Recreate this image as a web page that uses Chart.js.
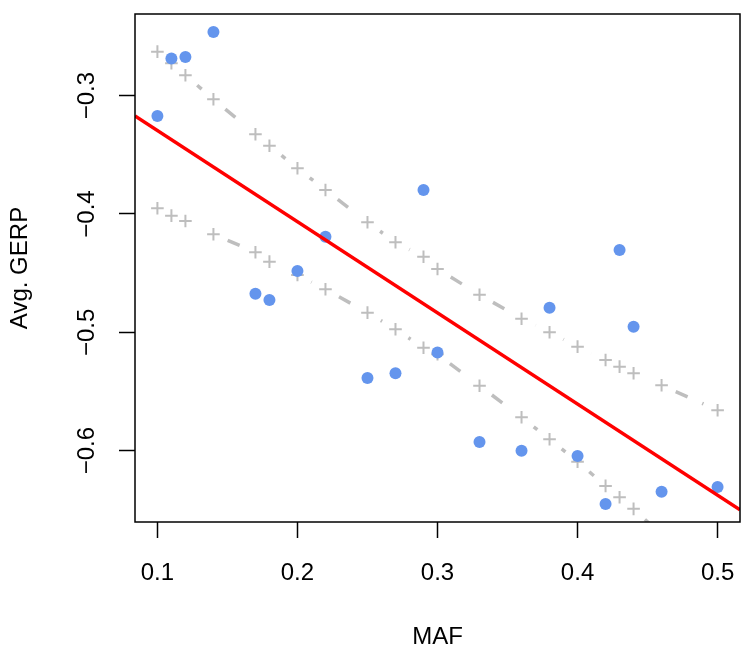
<!DOCTYPE html>
<html>
<head>
<meta charset="utf-8">
<script src="https://cdn.jsdelivr.net/npm/chart.js@4/dist/chart.umd.min.js"></script>
<style>
  html, body { margin: 0; padding: 0; background: #ffffff; }
  canvas { display: block; }
</style>
</head>
<body>
<canvas id="c" width="741" height="650"></canvas>
<script>
// ---- data ----
const maf = [0.10, 0.11, 0.12, 0.14, 0.17, 0.18, 0.20, 0.22, 0.25, 0.27, 0.29, 0.30, 0.33, 0.36, 0.38, 0.40, 0.42, 0.43, 0.44, 0.46, 0.50];
const avgGerp = [-0.3172, -0.2686, -0.2673, -0.2462, -0.4674, -0.4727, -0.4481, -0.4192, -0.5386, -0.5346, -0.3797, -0.5170, -0.5927, -0.6001, -0.4792, -0.6045, -0.6451, -0.4304, -0.4953, -0.6347, -0.6307];
const upperBand = [-0.2628, -0.2726, -0.2827, -0.3030, -0.3326, -0.3423, -0.3614, -0.3797, -0.4070, -0.4239, -0.4361, -0.4465, -0.4682, -0.4885, -0.4999, -0.5121, -0.5234, -0.5290, -0.5346, -0.5447, -0.5659];
const lowerBand = [-0.3952, -0.4014, -0.4059, -0.4171, -0.4323, -0.4403, -0.4515, -0.4636, -0.4834, -0.4974, -0.5130, -0.5186, -0.5451, -0.5718, -0.5904, -0.6093, -0.6298, -0.6394, -0.6492, -0.6712, -0.7090];
const fitX = [0.084, 0.516];
const fitY = [-0.3172, -0.6500];
const xTicks = [0.1, 0.2, 0.3, 0.4, 0.5];
const xTickLabels = ['0.1', '0.2', '0.3', '0.4', '0.5'];
const yTicks = [-0.6, -0.5, -0.4, -0.3];
const yTickLabels = ['\u22120.6', '\u22120.5', '\u22120.4', '\u22120.3'];
const xTitle = 'MAF';
const yTitle = 'Avg. GERP';

// ---- build chart ----
const pts = (xs, ys) => xs.map((x, i) => ({ x: x, y: ys[i] }));
const FONT = "'Liberation Sans', Arial, Helvetica, sans-serif";
const GRAY = '#BEBEBE';

// R type="b" look: each segment starts its own dot-dash pattern after a gap
// around the point symbol, and stops the same gap before the next symbol.
const GAP = 15.5;
const DASH = [13, 16, 3, 16];
function segmentDash(ctx) {
  const a = ctx.p0, b = ctx.p1;
  const L = Math.hypot(b.x - a.x, b.y - a.y);
  const avail = L - 2 * GAP;
  if (!(avail > 0)) return [0, L + 100 + ctx.p0DataIndex * 0.001];
  const out = [0, GAP];
  let rem = avail, k = 0;
  while (rem > 0.01) {
    const len = Math.min(DASH[k % 4], rem);
    out.push(len); rem -= len; k++;
  }
  if (out.length % 2 === 1) out.push(L + 100); else out.push(0, L + 100);
  return out;
}

const boxPlugin = {
  id: 'box',
  afterDraw(chart) {
    const a = chart.chartArea, ctx = chart.ctx;
    ctx.save();
    ctx.strokeStyle = '#000000';
    ctx.lineWidth = 1.5;
    ctx.strokeRect(a.left, a.top, a.right - a.left, a.bottom - a.top);
    ctx.restore();
  }
};

const bandStyle = {
  type: 'line', order: 2,
  borderColor: GRAY, borderWidth: 3.5, borderCapStyle: 'butt', fill: false, tension: 0,
  segment: { borderDash: segmentDash },
  pointStyle: 'cross', pointRadius: 6.3, pointBorderWidth: 2,
  pointBorderColor: GRAY, pointBackgroundColor: GRAY
};

new Chart(document.getElementById('c'), {
  type: 'scatter',
  data: {
    datasets: [
      { // regression line
        type: 'line', data: pts(fitX, fitY), order: 0,
        borderColor: '#FF0000', borderWidth: 3.5, pointRadius: 0, fill: false
      },
      { // observed points
        data: pts(maf, avgGerp), order: 1,
        pointStyle: 'circle', pointRadius: 6, pointBackgroundColor: '#6495ED',
        pointBorderWidth: 0, borderColor: '#6495ED', showLine: false
      },
      Object.assign({ data: pts(maf, upperBand) }, bandStyle),
      Object.assign({ data: pts(maf, lowerBand) }, bandStyle)
    ]
  },
  options: {
    responsive: false,
    animation: false,
    events: [],
    layout: { autoPadding: false, padding: { top: 14, right: 1, bottom: 0, left: 0 } },
    plugins: { legend: { display: false }, tooltip: { enabled: false } },
    scales: {
      x: {
        type: 'linear', position: 'bottom', min: 0.084, max: 0.516,
        afterBuildTicks: s => { s.ticks = xTicks.map(v => ({ value: v })); },
        afterFit: s => { s.height = 128; s.paddingLeft = 0; s.paddingRight = 0; s.paddingTop = 0; s.paddingBottom = 0; },
        grid: { drawOnChartArea: false, drawTicks: true, tickLength: 16, tickColor: '#000000', tickWidth: 1.5 },
        border: { display: false },
        ticks: {
          autoSkip: false, maxRotation: 0, minRotation: 0, padding: 23, color: '#000000',
          font: { family: FONT, size: 24, lineHeight: 1 },
          callback: (v, i) => xTickLabels[i]
        },
        title: {
          display: true, text: xTitle, color: '#000000',
          font: { family: FONT, size: 24, lineHeight: 1 }, padding: { top: 0, bottom: 1 }
        }
      },
      y: {
        type: 'linear', position: 'left', min: -0.6603, max: -0.2310,
        afterBuildTicks: s => { s.ticks = yTicks.map(v => ({ value: v })); },
        afterFit: s => { s.width = 135; s.paddingLeft = 0; s.paddingRight = 0; s.paddingTop = 0; s.paddingBottom = 0; },
        grid: { drawOnChartArea: false, drawTicks: true, tickLength: 16, tickColor: '#000000', tickWidth: 1.5 },
        border: { display: false },
        ticks: {
          autoSkip: false, minRotation: 90, maxRotation: 90, crossAlign: 'center', padding: 8,
          color: '#000000', font: { family: FONT, size: 24, lineHeight: 1 },
          callback: (v, i) => yTickLabels[i]
        },
        title: {
          display: true, text: yTitle, color: '#000000',
          font: { family: FONT, size: 24, lineHeight: 1 }, padding: { top: 8, bottom: 0 }
        }
      }
    }
  },
  plugins: [boxPlugin]
});
</script>
</body>
</html>
